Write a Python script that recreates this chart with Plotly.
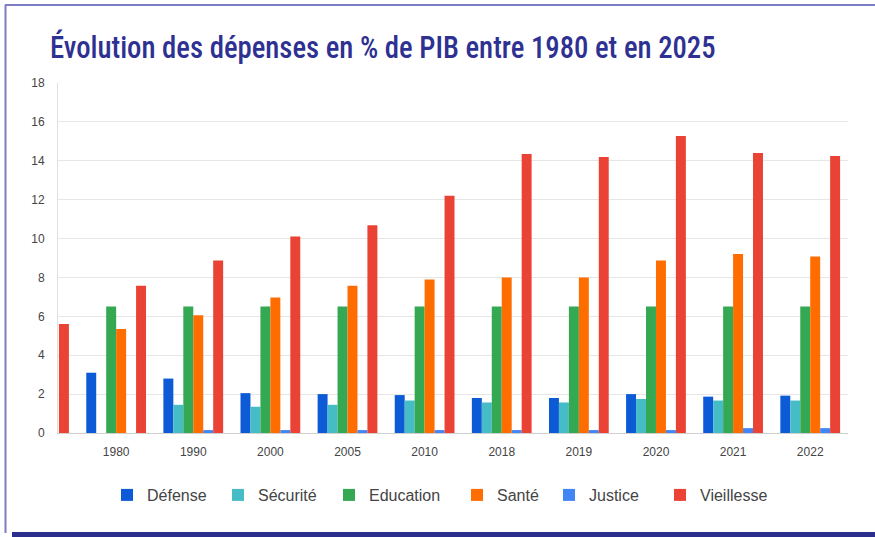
import plotly.graph_objects as go

years = [" ", "1980", "1990", "2000", "2005", "2010", "2018", "2019", "2020", "2021", "2022"]
defense = [None, 3.1, 2.8, 2.05, 2.0, 1.95, 1.8, 1.8, 2.0, 1.87, 1.92]
securite = [None, 0, 1.45, 1.35, 1.45, 1.67, 1.57, 1.57, 1.75, 1.67, 1.67]
education = [None, 6.5, 6.5, 6.5, 6.5, 6.5, 6.5, 6.5, 6.5, 6.5, 6.5]
sante = [None, 5.35, 6.05, 6.97, 7.57, 7.9, 8.0, 8.0, 8.87, 9.2, 9.08]
justice = [None, 0, 0.15, 0.15, 0.15, 0.15, 0.15, 0.15, 0.15, 0.25, 0.25]
vieillesse = [5.6, 7.57, 8.87, 10.1, 10.68, 12.2, 14.35, 14.2, 15.28, 14.4, 14.25]

series = [
    ("Défense", defense, "#0D5AD6"),
    ("Sécurité", securite, "#46BDC6"),
    ("Education", education, "#34A853"),
    ("Santé", sante, "#FF6D01"),
    ("Justice", justice, "#4285F4"),
    ("Vieillesse", vieillesse, "#EA4335"),
]

W, H = 875, 537
L, R, T, B = 58, 27, 83, 104
pw, ph = W - L - R, H - T - B

def px(x):
    return (x - L) / pw

def py(y):
    return (H - B - y) / ph

legend_text_px = [147, 258, 369, 497, 589, 700]

fig = go.Figure()
for i, (name, vals, col) in enumerate(series):
    lg = "legend" if i == 0 else f"legend{i+1}"
    fig.add_trace(go.Bar(x=years, y=vals, name=name, marker=dict(color=col, line=dict(width=0)),
                         legend=lg))

layouts = {}
for i, xp in enumerate(legend_text_px):
    key = "legend" if i == 0 else f"legend{i+1}"
    layouts[key] = dict(x=px(xp - 40), y=py(495), xanchor="left", yanchor="middle",
                        orientation="h", font=dict(family="Liberation Sans, Arial", size=16, color="#444444"),
                        itemwidth=30, bgcolor="rgba(0,0,0,0)", tracegroupgap=0)

fig.update_layout(
    width=W, height=H,
    margin=dict(l=L, r=R, t=T, b=B),
    paper_bgcolor="white", plot_bgcolor="white",
    barmode="group", bargap=0.225, bargroupgap=0,
    title=dict(text="Évolution des dépenses en % de PIB entre 1980 et en 2025",
               x=50 / W, xref="container", xanchor="left",
               y=1 - 47 / H, yref="container", yanchor="middle",
               font=dict(family="Roboto Condensed, Roboto", size=31,
                         color="#2E3192", weight=500)),
    xaxis=dict(type="category", categoryarray=years, range=[0.246, 10.49],
               showgrid=False, showline=True, linecolor="#D0D0D0", linewidth=1,
               tickfont=dict(family="Liberation Sans, Arial", size=12, color="#444444"),
               ticks="", ticklabelstandoff=8, fixedrange=True),
    yaxis=dict(range=[0, 18], dtick=2, showgrid=True, gridcolor="#E6E6E6", gridwidth=1,
               showline=True, linecolor="#E0E0E0", linewidth=1, zeroline=False,
               tickfont=dict(family="Liberation Sans, Arial", size=12, color="#444444"),
               ticks="", ticklabelstandoff=10),
    showlegend=True,
    **layouts,
)

shapes = [
    dict(type="line", xref="paper", yref="paper", x0=px(5), x1=px(876), y0=py(5), y1=py(5),
         line=dict(color="#7D7DC6", width=2)),
    dict(type="line", xref="paper", yref="paper", x0=px(5.5), x1=px(5.5), y0=py(5), y1=py(533),
         line=dict(color="#7D7DC6", width=2)),
    dict(type="rect", xref="paper", yref="paper", x0=px(12), x1=px(876), y0=py(532), y1=py(538),
         fillcolor="#2B2E8C", line=dict(width=0)),
]
fig.update_layout(shapes=shapes)

post = """
document.body.style.margin = '0';
var gd = document.getElementById('{plot_id}');
var t = gd.querySelector('.gtitle');
if (t) {
  var b = t.getBBox();
  var s = 666 / b.width;
  var x0 = b.x;
  t.setAttribute('transform', 'translate(' + x0 + ',0) scale(' + s + ',1) translate(' + (-x0) + ',0)');
}
"""

fig.write_html("out.html", post_script=post, config={"displayModeBar": False})
